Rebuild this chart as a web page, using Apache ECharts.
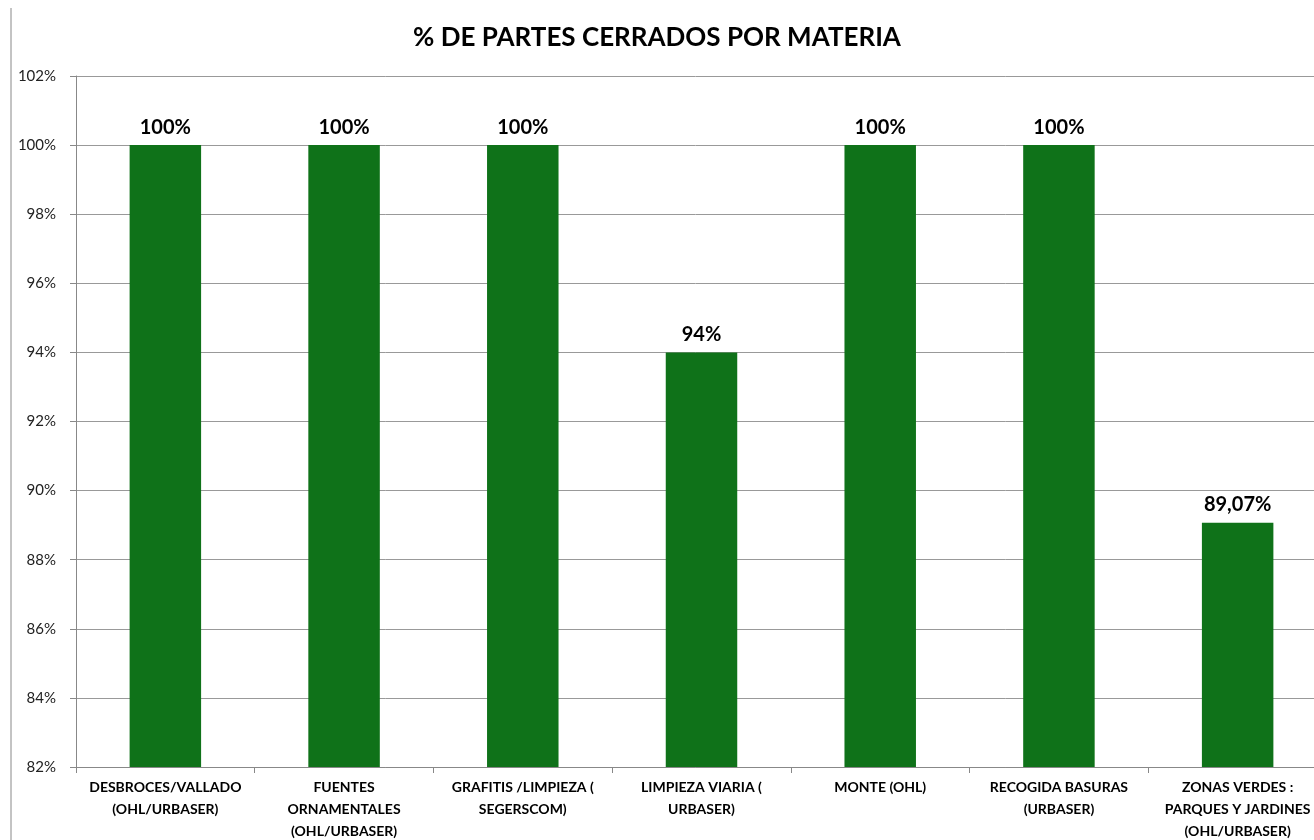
<!DOCTYPE html>
<html>
<head>
<meta charset="utf-8">
<script src="https://cdn.jsdelivr.net/npm/echarts@6/dist/echarts.min.js"></script>
<style>
html,body{margin:0;padding:0;background:#fff;}
#chart{width:1314px;height:840px;}
</style>
</head>
<body>
<div id="chart"></div>
<script>
var categorias = [
	'DESBROCES/VALLADO\n(OHL/URBASER)',
	'FUENTES\nORNAMENTALES\n(OHL/URBASER)',
	'GRAFITIS /LIMPIEZA (\nSEGERSCOM)',
	'LIMPIEZA VIARIA (\nURBASER)',
	'MONTE (OHL)',
	'RECOGIDA BASURAS\n(URBASER)',
	'ZONAS VERDES :\nPARQUES Y JARDINES\n(OHL/URBASER)'
];
var porcentajes = [100, 100, 100, 94, 100, 100, 89.07];

var myChart = echarts.init(document.getElementById('chart'));
var option = {
	animation:false,
	textStyle:{
		fontFamily:'Lato, "Open Sans", sans-serif'
	},
	title:{
		text:'% DE PARTES CERRADOS POR MATERIA',
		left:'center',
		top:20,
		textStyle:{
			fontSize:26,
			fontWeight:'bold',
			color:'#000',
			fontFamily:'Lato, "Open Sans", sans-serif'
		}
	},
	graphic:[{
		type:'line',
		shape:{x1:11, y1:8, x2:11, y2:840},
		style:{stroke:'#888', lineWidth:1}
	}],
	grid:{
		left:76,
		width:1251,
		top:76,
		height:691,
		outerBoundsMode:'none',
		containLabel:false
	},
	xAxis:{
		type:'category',
		data:categorias,
		axisLine:{lineStyle:{color:'#888'}},
		axisTick:{show:true, length:6, lineStyle:{color:'#888'}},
		axisLabel:{
			interval:0,
			color:'#000',
			fontSize:14,
			fontWeight:'bold',
			lineHeight:22,
			margin:9
		}
	},
	yAxis:{
		type:'value',
		min:82,
		max:102,
		interval:2,
		axisLine:{show:true, lineStyle:{color:'#888'}},
		axisTick:{show:true, length:6, lineStyle:{color:'#888'}},
		axisLabel:{
			formatter:'{value}%',
			color:'#222',
			fontSize:15,
			margin:20
		},
		splitLine:{lineStyle:{color:'#999', width:1}}
	},
	series:[{
		type:'bar',
		data:porcentajes,
		barWidth:'40%',
		itemStyle:{color:'#0f7219'},
		label:{
			show:true,
			position:'top',
			distance:8,
			color:'#000',
			fontSize:20,
			fontWeight:'bold',
			formatter:function(p){
				var v = p.value;
				if(v % 1 === 0) return v + '%';
				return v.toFixed(2).replace('.', ',') + '%';
			}
		}
	}]
};
myChart.setOption(option);
</script>
</body>
</html>
